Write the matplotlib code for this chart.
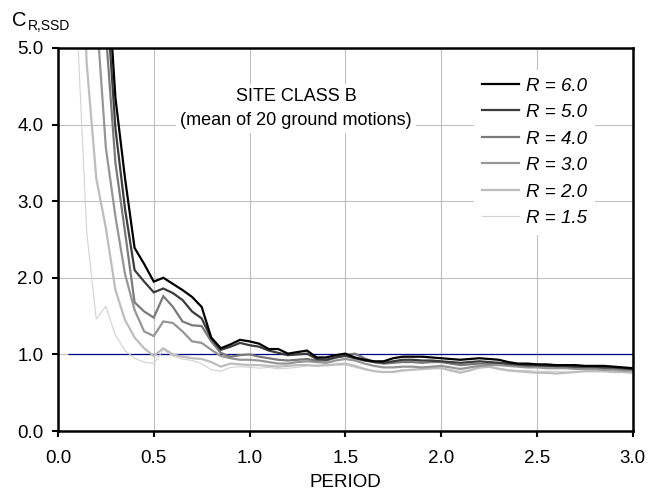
import matplotlib
matplotlib.use("Agg")
import matplotlib.pyplot as plt

plt.rcParams['font.family'] = ['Liberation Sans', 'DejaVu Sans']

periods = [0.05, 0.10, 0.15, 0.20, 0.25, 0.30, 0.35, 0.40, 0.45, 0.50,
           0.55, 0.60, 0.65, 0.70, 0.75, 0.80, 0.85, 0.90, 0.95, 1.00,
           1.05, 1.10, 1.15, 1.20, 1.25, 1.30, 1.35, 1.40, 1.45, 1.50,
           1.55, 1.60, 1.65, 1.70, 1.75, 1.80, 1.85, 1.90, 1.95, 2.00,
           2.05, 2.10, 2.15, 2.20, 2.25, 2.30, 2.35, 2.40, 2.45, 2.50,
           2.55, 2.60, 2.65, 2.70, 2.75, 2.80, 2.85, 2.90, 2.95, 3.00]

c_r60 = [30.0, 20.0, 12.0, 8.5, 6.3, 4.35, 3.3, 2.39, 2.18, 1.95,
         2.00, 1.92, 1.84, 1.75, 1.62, 1.22, 1.08, 1.13, 1.19, 1.17,
         1.14, 1.07, 1.07, 1.01, 1.03, 1.05, 0.96, 0.96, 0.99, 1.01,
         0.96, 0.93, 0.91, 0.91, 0.95, 0.97, 0.97, 0.97, 0.96, 0.95,
         0.94, 0.93, 0.94, 0.95, 0.94, 0.93, 0.90, 0.88, 0.88, 0.87,
         0.87, 0.86, 0.86, 0.86, 0.85, 0.85, 0.85, 0.84, 0.83, 0.82]
c_r50 = [25.0, 16.0, 10.0, 7.5, 5.8, 3.95, 2.9, 2.10, 1.95, 1.81,
         1.86, 1.80, 1.71, 1.56, 1.47, 1.21, 1.06, 1.10, 1.15, 1.12,
         1.10, 1.05, 1.02, 0.99, 1.00, 1.01, 0.94, 0.93, 0.96, 0.98,
         0.95, 0.92, 0.90, 0.89, 0.91, 0.93, 0.93, 0.92, 0.92, 0.91,
         0.90, 0.89, 0.90, 0.91, 0.90, 0.89, 0.88, 0.87, 0.86, 0.86,
         0.85, 0.85, 0.85, 0.84, 0.84, 0.84, 0.83, 0.83, 0.82, 0.81]
c_r40 = [22.0, 14.0, 9.5, 7.0, 5.2, 3.5, 2.6, 1.68, 1.56, 1.48,
         1.76, 1.62, 1.43, 1.38, 1.37, 1.17, 1.02, 0.97, 0.99, 1.00,
         0.97, 0.95, 0.93, 0.92, 0.93, 0.94, 0.92, 0.92, 0.96, 0.99,
         1.01, 0.95, 0.90, 0.88, 0.89, 0.90, 0.90, 0.89, 0.90, 0.90,
         0.88, 0.86, 0.87, 0.88, 0.88, 0.89, 0.87, 0.86, 0.85, 0.85,
         0.85, 0.84, 0.84, 0.83, 0.83, 0.83, 0.82, 0.82, 0.81, 0.80]
c_r30 = [18.0, 11.0, 8.0, 5.5, 3.7, 2.8, 2.05, 1.58, 1.30, 1.24,
         1.43, 1.41, 1.30, 1.17, 1.15, 1.06, 0.98, 0.95, 0.93, 0.93,
         0.92, 0.90, 0.88, 0.88, 0.90, 0.91, 0.90, 0.89, 0.92, 0.94,
         0.92, 0.88, 0.85, 0.83, 0.83, 0.84, 0.84, 0.83, 0.84, 0.85,
         0.83, 0.81, 0.83, 0.85, 0.86, 0.86, 0.85, 0.84, 0.83, 0.83,
         0.82, 0.82, 0.82, 0.81, 0.81, 0.81, 0.80, 0.80, 0.79, 0.79]
c_r20 = [15.0, 8.0, 4.8, 3.3, 2.65, 1.84, 1.45, 1.22, 1.08, 0.98,
         1.08, 1.00, 0.97, 0.95, 0.94, 0.90, 0.84, 0.88, 0.87, 0.86,
         0.86, 0.85, 0.84, 0.85, 0.86, 0.86, 0.85, 0.86, 0.87, 0.88,
         0.85, 0.81, 0.78, 0.77, 0.77, 0.79, 0.80, 0.81, 0.82, 0.82,
         0.79, 0.76, 0.79, 0.83, 0.84, 0.81, 0.79, 0.78, 0.77, 0.76,
         0.76, 0.75, 0.76, 0.77, 0.78, 0.78, 0.78, 0.77, 0.77, 0.76]
c_r15 = [12.0, 5.3, 2.6, 1.46, 1.63, 1.25, 1.05, 0.95, 0.90, 0.88,
         1.06, 0.98, 0.94, 0.92, 0.88, 0.80, 0.78, 0.83, 0.84, 0.83,
         0.82, 0.83, 0.81, 0.82, 0.83, 0.85, 0.86, 0.85, 0.86, 0.86,
         0.83, 0.80, 0.78, 0.77, 0.78, 0.80, 0.80, 0.80, 0.81, 0.82,
         0.80, 0.78, 0.80, 0.82, 0.83, 0.82, 0.80, 0.79, 0.79, 0.78,
         0.78, 0.78, 0.77, 0.77, 0.78, 0.79, 0.79, 0.78, 0.78, 0.77]

labels = ["R = 6.0", "R = 5.0", "R = 4.0", "R = 3.0", "R = 2.0", "R = 1.5"]
series = [c_r60, c_r50, c_r40, c_r30, c_r20, c_r15]
colors = ["#000000", "#3c3c3c", "#7a7a7a", "#969696", "#bdbdbd", "#d2d2d2"]
widths = [1.6, 1.6, 1.6, 1.6, 1.6, 0.8]

fig = plt.figure(figsize=(6.51, 4.94), dpi=100)
ax = fig.add_axes([0.089, 0.1275, 0.883, 0.7755])

# draw lightest first so the black curve sits on top
handles = [None] * len(series)
for i in reversed(range(len(series))):
    handles[i], = ax.plot(periods, series[i], color=colors[i], lw=widths[i],
                          label=labels[i], solid_joinstyle='miter')

ax.hlines(1.0, periods[0], periods[-1], color="#000080", lw=0.9, zorder=1)

ax.set_xlim(0, 3.0)
ax.set_ylim(0, 5.0)
ax.set_xticks([0.0, 0.5, 1.0, 1.5, 2.0, 2.5, 3.0])
ax.set_yticks([0.0, 1.0, 2.0, 3.0, 4.0, 5.0])
ax.set_xticklabels(["0.0", "0.5", "1.0", "1.5", "2.0", "2.5", "3.0"])
ax.set_yticklabels(["0.0", "1.0", "2.0", "3.0", "4.0", "5.0"])
ax.tick_params(direction='out', length=4.5, width=1.5, labelsize=13.5)
ax.tick_params(axis='x', pad=9)
ax.tick_params(axis='y', pad=6)
ax.grid(True, color="#c0c0c0", lw=0.8)
ax.set_axisbelow(True)
for s in ax.spines.values():
    s.set_linewidth(1.8)

ax.set_xlabel("PERIOD", fontsize=13.5, labelpad=5)

fig.text(0.018, 0.947, "C", fontsize=14.5, ha='left', va='baseline')
fig.text(0.043, 0.939, "R,SSD", fontsize=10, ha='left', va='baseline')

ax.text(0.414, 0.895, "SITE CLASS B\n(mean of 20 ground motions)",
        transform=ax.transAxes, ha='center', va='top', fontsize=13,
        linespacing=1.55,
        bbox=dict(facecolor='white', edgecolor='none', pad=3))

leg = ax.legend(handles=handles, loc='upper left', bbox_to_anchor=(0.708, 0.967),
                frameon=True, facecolor='white', edgecolor='none', framealpha=1,
                fancybox=False, prop={'style': 'italic', 'size': 13.5},
                handlelength=2.0, handletextpad=0.37, labelspacing=0.5,
                borderpad=0.4)

fig.savefig("out.png", dpi=100)
